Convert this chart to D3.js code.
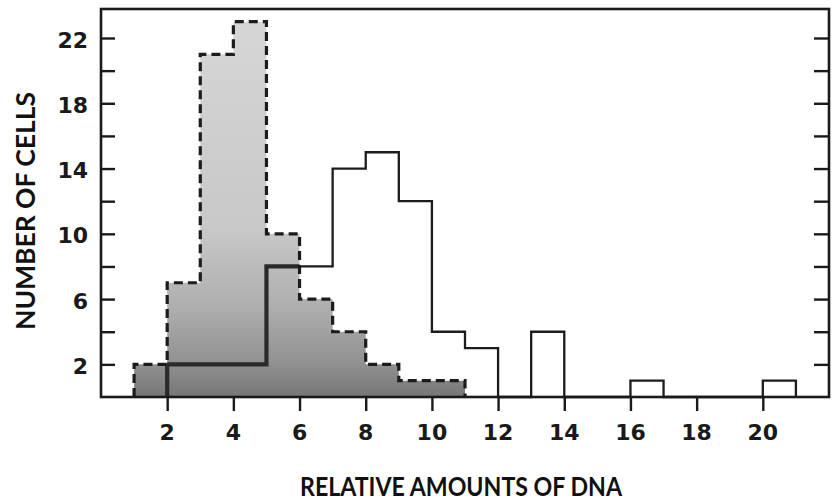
<!DOCTYPE html>
<html>
<head>
<meta charset="utf-8">
<script src="https://cdn.jsdelivr.net/npm/d3@7"></script>
<style>
  body { margin: 0; background: #fff; }
  svg { display: block; }
  .tick-label { font-family: "DejaVu Sans", sans-serif; font-weight: bold; fill: #1a1a1a; }
  .title { font-family: Lato, "Open Sans", sans-serif; font-weight: bold; fill: #111; }
</style>
</head>
<body>
<svg id="chart" width="833" height="501"></svg>
<script>
// histogram of the shaded (dashed) population, one value per unit bin starting at x = 1
var dashedStart = 1;
var dashedCounts = [2, 7, 21, 23, 10, 6, 4, 2, 1, 1];
// histogram of the open (solid) population, one value per unit bin starting at x = 2
var solidStart = 2;
var solidCounts = [2, 2, 2, 8, 8, 14, 15, 12, 4, 3, 0, 4, 0, 0, 1, 0, 0, 0, 1];

var xTickValues = [2, 4, 6, 8, 10, 12, 14, 16, 18, 20];
var yTickValues = [2, 4, 6, 8, 10, 12, 14, 16, 18, 20, 22];
var yTickLabels = [2, 6, 10, 14, 18, 22];
var xTitle = "RELATIVE AMOUNTS OF DNA";
var yTitle = "NUMBER OF CELLS";

var svg = d3.select("#chart");

var x = d3.scaleLinear().domain([0, 22]).range([101, 829]);
var y = d3.scaleLinear().domain([0, 22]).range([397, 38]);
var frameTop = 9;

// gray shading of the dashed histogram, lighter at the top
var defs = svg.append("defs");
var grad = defs.append("linearGradient").attr("id", "shade")
    .attr("gradientUnits", "userSpaceOnUse")
    .attr("x1", 0).attr("y1", y(23)).attr("x2", 0).attr("y2", y(0));
[[0, "#d6d6d6"], [0.55, "#c8c8c8"], [0.75, "#b0b0b0"], [0.9, "#939393"], [1, "#777777"]].forEach(function(s){
    grad.append("stop").attr("offset", s[0]).attr("stop-color", s[1]);
});

function stepPath(start, counts, closeBottom) {
    var p = d3.path();
    p.moveTo(x(start), y(0));
    counts.forEach(function(v, i){
        p.lineTo(x(start + i), y(v));
        p.lineTo(x(start + i + 1), y(v));
    });
    p.lineTo(x(start + counts.length), y(0));
    if (closeBottom) p.closePath();
    return p.toString();
}

var dashedD = stepPath(dashedStart, dashedCounts, true);
var solidD = stepPath(solidStart, solidCounts, false);

defs.append("clipPath").attr("id", "shadeClip").append("path").attr("d", dashedD);

svg.append("path").attr("d", dashedD).attr("fill", "url(#shade)").attr("stroke", "none");

// solid outline, heavier where it crosses the shaded area
svg.append("path").attr("d", solidD).attr("fill", "none")
    .attr("stroke", "#1c1c1c").attr("stroke-width", 2.3);
svg.append("path").attr("d", solidD).attr("fill", "none")
    .attr("stroke", "#2a2a2a").attr("stroke-width", 4.2)
    .attr("clip-path", "url(#shadeClip)");

svg.append("path").attr("d", stepPath(dashedStart, dashedCounts, false))
    .attr("fill", "none").attr("stroke", "#1c1c1c").attr("stroke-width", 3.2)
    .attr("stroke-dasharray", "9,5");

// frame
svg.append("rect").attr("x", x(0)).attr("y", frameTop)
    .attr("width", x(22) - x(0)).attr("height", y(0) - frameTop)
    .attr("fill", "none").attr("stroke", "#1a1a1a").attr("stroke-width", 2.6);

// y ticks on both sides, pointing inward
var yAxisL = svg.append("g").attr("transform", "translate(" + x(0) + ",0)")
    .call(d3.axisRight(y).tickValues(yTickValues).tickSize(14).tickFormat(""));
var yAxisR = svg.append("g").attr("transform", "translate(" + x(22) + ",0)")
    .call(d3.axisLeft(y).tickValues(yTickValues).tickSize(15).tickFormat(""));
var xAxis = svg.append("g").attr("transform", "translate(0," + y(0) + ")")
    .call(d3.axisBottom(x).tickValues(xTickValues).tickSize(14).tickFormat(""));
[yAxisL, yAxisR, xAxis].forEach(function(a){
    a.select(".domain").remove();
    a.selectAll(".tick line").attr("stroke", "#1a1a1a").attr("stroke-width", 2.4);
});

// tick labels
svg.append("g").selectAll("text").data(yTickLabels).enter().append("text")
    .attr("class", "tick-label")
    .attr("x", 88).attr("y", function(d){ return y(d) + 9.5; })
    .attr("text-anchor", "end").attr("font-size", 22)
    .text(function(d){ return d; });

svg.append("g").selectAll("text").data(xTickValues).enter().append("text")
    .attr("class", "tick-label")
    .attr("x", function(d){ return x(d); }).attr("y", 440)
    .attr("text-anchor", "middle").attr("font-size", 22)
    .text(function(d){ return d; });

// axis titles
svg.append("text").attr("class", "title")
    .attr("x", 461).attr("y", 496).attr("text-anchor", "middle")
    .attr("font-size", 27).attr("textLength", 322).attr("lengthAdjust", "spacingAndGlyphs")
    .text(xTitle);

svg.append("text").attr("class", "title")
    .attr("transform", "translate(35,211) rotate(-90)").attr("text-anchor", "middle")
    .attr("font-size", 27).attr("textLength", 238).attr("lengthAdjust", "spacingAndGlyphs")
    .text(yTitle);
</script>
</body>
</html>
